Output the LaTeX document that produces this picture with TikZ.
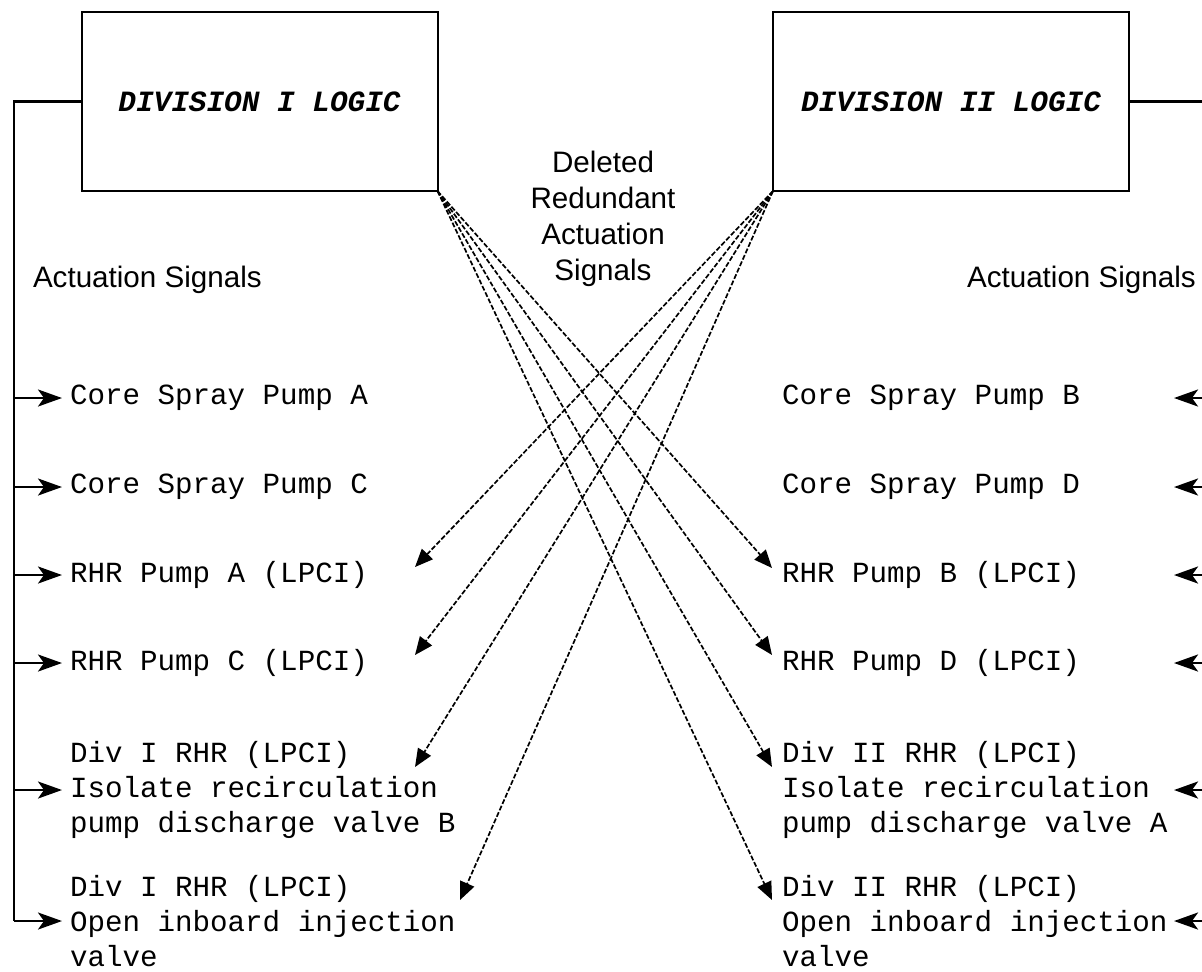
\documentclass[tikz,border=0pt]{standalone}
\usepackage{fontspec}
\setsansfont{Liberation Sans}
\setmonofont{Liberation Mono}
\usetikzlibrary{arrows.meta}
\newcommand\monogap{\spaceskip=0.6em\relax\xspaceskip=0.6em\relax}

\begin{document}
\begin{tikzpicture}[x=0.5pt, y=-0.5pt,
  every node/.style={inner sep=0pt, outer sep=0pt},
  logic/.style={draw, line width=1pt, minimum width=178pt, minimum height=89.5pt, font=\fontsize{14.7}{17.7}\selectfont\ttfamily\bfseries\itshape\monogap},
  lsig/.style={anchor=west, inner xsep=4pt, align=flush left, text width=200pt, font=\fontsize{14.6}{17.6}\selectfont\ttfamily, execute at begin node=\monogap},
  rsig/.style={anchor=west, inner xsep=2pt, align=flush left, text width=194pt, font=\fontsize{14.6}{17.6}\selectfont\ttfamily, execute at begin node=\monogap},
  heading/.style={font=\fontsize{14.8}{18}\selectfont\sffamily},
  busline/.style={line width=1.3pt},
  sig/.style={line width=1.3pt, -{Stealth[length=12pt, width=8.5pt, inset=3pt]}},
  redund/.style={line width=0.85pt, dash pattern=on 2.5pt off 1pt, -{Triangle[length=9pt, width=7.5pt]}}]
\useasboundingbox (0,0) rectangle (1202,971);
\node[logic] (div1) at (259.5,101.5) {DIVISION I LOGIC};
\node[logic] (div2) at (951,101.5) {DIVISION II LOGIC};
\node[heading, anchor=west] (act1) at (33,280) {Actuation Signals};
\node[heading, anchor=west] (act2) at (967,280) {Actuation Signals};
\node[heading, align=center] (deleted) at (603,219) {Deleted\\Redundant\\Actuation\\Signals};
\node[lsig] (csA) at (62,398) {Core Spray Pump A};
\node[lsig] (csC) at (62,487) {Core Spray Pump C};
\node[lsig] (rhrA) at (62,575) {RHR Pump A (LPCI)};
\node[lsig] (rhrC) at (62,663) {RHR Pump C (LPCI)};
\node[lsig] (isoB) at (62,790) {Div I RHR (LPCI)\\Isolate recirculation\\pump discharge valve B};
\node[lsig] (injI) at (62,921) {Div I RHR (LPCI)\\Open inboard injection\\valve};
\node[rsig] (csB) at (778,398) {Core Spray Pump B};
\node[rsig] (csD) at (778,487) {Core Spray Pump D};
\node[rsig] (rhrB) at (778,575) {RHR Pump B (LPCI)};
\node[rsig] (rhrD) at (778,663) {RHR Pump D (LPCI)};
\node[rsig] (isoA) at (778,790) {Div II RHR (LPCI)\\Isolate recirculation\\pump discharge valve A};
\node[rsig] (injII) at (778,921) {Div II RHR (LPCI)\\Open inboard injection\\valve};
\coordinate (lbus) at (14,921);
\coordinate (rbus) at (1206,921);
\coordinate (tipA) at (415,567);
\coordinate (tipC) at (415,655);
\coordinate (tipIsoB) at (415,767);
\coordinate (tipInjI) at (460,900);
\coordinate (tipB) at (772,568);
\coordinate (tipD) at (772,655);
\coordinate (tipIsoA) at (772,767);
\coordinate (tipInjII) at (772,900);
\draw[busline] (div1.west) -| (lbus);
\draw[busline] (div2.east) -| (rbus);
\draw[sig] (lbus |- csA.west) -- (csA.west);
\draw[sig] (lbus |- csC.west) -- (csC.west);
\draw[sig] (lbus |- rhrA.west) -- (rhrA.west);
\draw[sig] (lbus |- rhrC.west) -- (rhrC.west);
\draw[sig] (lbus |- isoB.west) -- (isoB.west);
\draw[sig] (lbus) -- (injI.west);
\draw[sig] (rbus |- csB.east) -- (csB.east);
\draw[sig] (rbus |- csD.east) -- (csD.east);
\draw[sig] (rbus |- rhrB.east) -- (rhrB.east);
\draw[sig] (rbus |- rhrD.east) -- (rhrD.east);
\draw[sig] (rbus |- isoA.east) -- (isoA.east);
\draw[sig] (rbus |- injII.east) -- (injII.east);
\draw[redund] (div1.south east) -- (tipB);
\draw[redund] (div1.south east) -- (tipD);
\draw[redund] (div1.south east) -- (tipIsoA);
\draw[redund] (div1.south east) -- (tipInjII);
\draw[redund] (div2.south west) -- (tipA);
\draw[redund] (div2.south west) -- (tipC);
\draw[redund] (div2.south west) -- (tipIsoB);
\draw[redund] (div2.south west) -- (tipInjI);
\end{tikzpicture}
\end{document}
